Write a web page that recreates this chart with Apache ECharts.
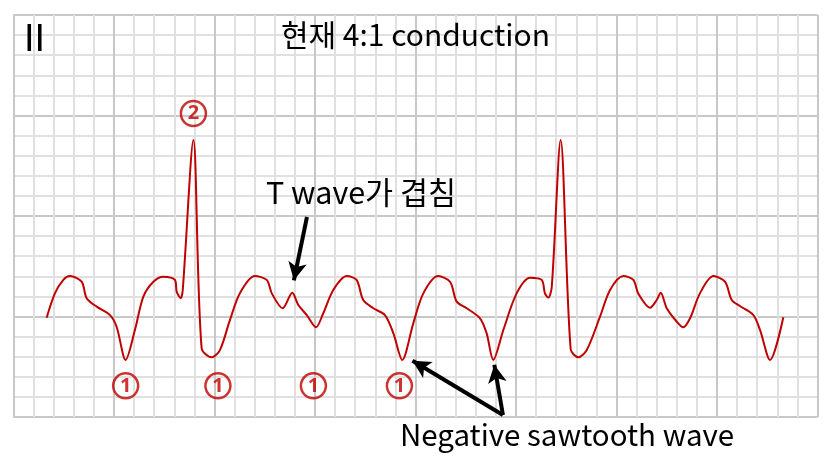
<!DOCTYPE html>
<html><head><meta charset="utf-8">
<script src="https://cdn.jsdelivr.net/npm/echarts@6/dist/echarts.min.js"></script>
<style>html,body{margin:0;padding:0;background:#fff;}#c{width:831px;height:467px;}</style>
</head><body><div id="c"></div>
<script>
// ECG trace, x in small squares (0.04 s), y in small squares (0.1 mV), baseline 0
var traceX = [1.65,2.06,2.48,2.81,3.39,3.64,4.14,4.80,5.13,5.58,6.04,6.46,6.96,7.45,8.03,8.12,8.32,8.42,8.95,9.36,9.86,10.27,10.77,11.27,12.01,12.60,12.85,13.39,13.87,14.17,14.59,15.05,15.41,15.91,16.58,17.07,17.40,17.90,18.48,18.90,19.34,19.89,20.39,21.13,21.72,22.05,22.55,23.21,23.54,23.87,24.37,25.03,25.70,26.28,26.44,26.61,26.78,27.22,27.72,28.10,28.52,29.18,29.68,30.34,30.84,31.08,31.67,32.00,32.20,32.50,33.00,33.32,33.66,34.15,34.82,35.40,35.73,36.14,36.81,37.14,37.64,38.30];
var traceY = [-0.06,1.15,1.82,2.01,1.73,0.91,0.49,0.07,-0.51,-2.16,-0.67,0.99,1.73,1.98,1.82,1.23,0.91,1.32,8.78,-1.58,-2.03,-1.67,-0.17,1.17,2.01,1.82,1.15,0.41,1.18,0.57,0.07,-0.54,0.16,1.32,2.01,1.82,0.82,0.41,0.07,-0.84,-2.16,-0.34,1.15,2.01,1.73,0.74,0.41,-0.09,-0.84,-2.16,-0.67,1.15,1.93,1.82,1.15,0.94,1.48,8.78,-1.63,-2.03,-1.67,-0.01,1.32,2.01,1.82,1.15,0.44,0.82,1.18,0.41,-0.26,-0.54,-0.09,1.15,2.01,1.73,0.82,0.52,0.07,-0.67,-2.16,-0.04];

var titleText = '현재 4:1 conduction';
var leadText = 'II';
var tNoteText = 'T wave가 겹침';
var sawText = 'Negative sawtooth wave';

// circled markers (①, ②): position and digit
var markerX = [8.95, 5.58, 10.17, 14.92, 19.2];
var markerY = [10.1, -3.45, -3.45, -3.45, -3.45];
var markerDigit = ['2','1','1','1','1'];

// arrows [fromX, fromY] -> [toX, toY]
var arrowFrom = [[14.60, 4.95],[24.35,-4.9],[24.35,-4.9]];
var arrowTo = [[13.95, 1.80],[19.85,-2.2],[23.92,-2.4]];

var data = traceX.map(function(x,i){return [x, traceY[i]];});
var markers = markerX.map(function(x,i){return {value:[x, markerY[i]], name:markerDigit[i]};});
var arrows = arrowFrom.map(function(f,i){return [{coord:f},{coord:arrowTo[i]}];});

var chart = echarts.init(document.getElementById('c'), null, {renderer:'canvas'});
var minorColor = '#e0e0e0', majorColor = '#c8c8c8';
var FONT = '"Noto Sans CJK KR", "Noto Sans", sans-serif';
chart.setOption({
  animation:false,
  backgroundColor:'#fff',
  grid:{left:13.5, top:15, width:804, height:402, containLabel:false},
  xAxis:[
    {type:'value', min:0, max:40, interval:1, axisLine:{show:false}, axisTick:{show:false}, axisLabel:{show:false},
     splitLine:{show:true, lineStyle:{color:minorColor, width:2}}},
    {type:'value', min:0, max:40, interval:5, position:'bottom', axisLine:{show:false}, axisTick:{show:false}, axisLabel:{show:false},
     splitLine:{show:true, lineStyle:{color:majorColor, width:2}}}
  ],
  yAxis:[
    {type:'value', min:-5, max:15, interval:1, axisLine:{show:false}, axisTick:{show:false}, axisLabel:{show:false},
     splitLine:{show:true, lineStyle:{color:minorColor, width:2}}},
    {type:'value', min:-5, max:15, interval:5, position:'left', axisLine:{show:false}, axisTick:{show:false}, axisLabel:{show:false},
     splitLine:{show:true, lineStyle:{color:majorColor, width:2}}}
  ],
  series:[
    {type:'line', data:data, smooth:0.3, showSymbol:false, symbol:'none',
     lineStyle:{color:'#c00000', width:2}, z:5,
     markLine:{silent:true, symbol:['none','arrow'], symbolSize:[14,18], animation:false,
       lineStyle:{color:'#000', width:4, type:'solid'}, label:{show:false}, data:arrows}},
    {type:'scatter', data:markers, symbol:'circle', symbolSize:25, z:6,
     itemStyle:{color:'rgba(255,255,255,0)', borderColor:'#c00000', borderWidth:2.5},
     label:{show:true, position:'inside', formatter:function(p){return p.name;},
       color:'#c00000', fontSize:20, fontWeight:'bold', fontFamily:'"Noto Sans", sans-serif'}}
  ],
  graphic:[
    {type:'text', z:100, left:'center', top:20, style:{text:titleText, font:'30px '+FONT, fill:'#000'}},
    {type:'text', z:100, left:24, top:22, style:{text:leadText, font:'38px "Liberation Sans", sans-serif', fill:'#000'}},
    {type:'text', z:100, left:266, top:177, style:{text:tNoteText, font:'30.5px '+FONT, fill:'#000'}},
    {type:'text', z:100, left:400, top:420, style:{text:sawText, font:'29.5px '+FONT, fill:'#000'}}
  ]
});
</script></body></html>
